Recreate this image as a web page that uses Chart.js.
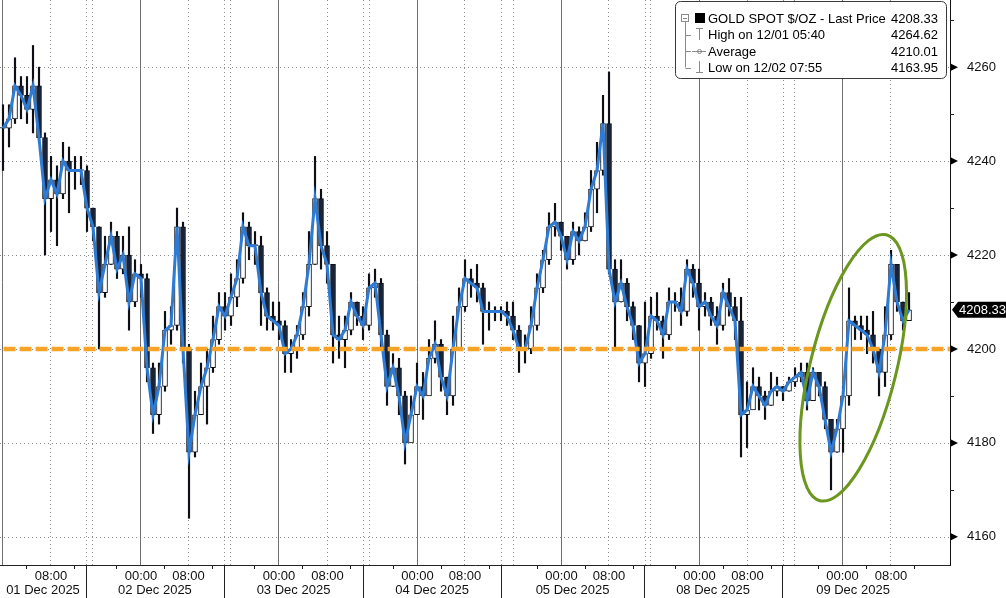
<!DOCTYPE html>
<html>
<head>
<meta charset="utf-8">
<title>GOLD SPOT $/OZ</title>
<script src="https://cdn.jsdelivr.net/npm/chart.js@4.4.1/dist/chart.umd.min.js"></script>
<style>
  html, body { margin: 0; padding: 0; background: #fff; }
  #wrap { width: 1006px; height: 598px; }
</style>
</head>
<body>
<div id="wrap"><canvas id="goldChart" width="1006" height="598"></canvas></div>
<script>
// hourly bars, 01 Dec 2025 -> 09 Dec 2025 (trading hours, gaps removed)
const closes = [
  4247, 4249, 4256, 4254, 4251, 4256, 4245, 4232, 4236, 4233,
  4240, 4238, 4238, 4238, 4230, 4226, 4212, 4218, 4224, 4217,
  4220, 4210, 4216, 4215, 4196, 4186, 4192, 4204, 4205, 4226,
  4200, 4178, 4186, 4192, 4196, 4202, 4209, 4207, 4211, 4215,
  4226, 4222, 4222, 4212, 4207, 4206, 4205, 4199, 4200, 4203,
  4209, 4218, 4232, 4222, 4218, 4203, 4202, 4204, 4210, 4207,
  4205, 4213, 4214, 4203, 4192, 4196, 4190, 4180, 4186, 4192,
  4190, 4198, 4201, 4194, 4190, 4200, 4209, 4215, 4214, 4213,
  4208, 4208, 4208, 4208, 4207, 4204, 4200, 4200, 4205, 4213,
  4219, 4226, 4227, 4224, 4219, 4225, 4223, 4226, 4234, 4238,
  4248, 4217, 4210, 4214, 4209, 4205, 4197, 4199, 4207, 4206,
  4203, 4210, 4210, 4208, 4217, 4214, 4209, 4210, 4207, 4205,
  4212, 4209, 4206, 4186, 4187, 4192, 4190, 4188, 4191, 4192,
  4191, 4193, 4194, 4195, 4189, 4195, 4192, 4185, 4178, 4183,
  4190, 4206, 4205, 4204, 4203, 4200, 4195, 4203, 4218, 4210,
  4206, 4208.33
];
const highs = [
  4252, 4252, 4262, 4258, 4258, 4264.62, 4260, 4246, 4241, 4239,
  4244, 4243, 4241, 4241, 4239, 4230, 4226, 4224, 4227, 4225,
  4224, 4226, 4219, 4218, 4216, 4197, 4197, 4208, 4209, 4230,
  4227, 4201, 4191, 4197, 4200, 4207, 4212, 4212, 4216, 4219,
  4229, 4227, 4225, 4224, 4213, 4210, 4210, 4206, 4202, 4205,
  4212, 4225, 4241, 4234, 4225, 4218, 4207, 4207, 4212, 4210,
  4209, 4216, 4217, 4215, 4204, 4199, 4198, 4191, 4190, 4197,
  4195, 4202, 4206, 4202, 4194, 4207, 4213, 4219, 4217, 4218,
  4214, 4210, 4209, 4209, 4210, 4210, 4205, 4203, 4209, 4216,
  4221, 4229, 4231, 4227, 4224, 4227, 4226, 4229, 4238, 4244,
  4254, 4259, 4219, 4219, 4215, 4210, 4205, 4210, 4211, 4212,
  4207, 4213, 4212, 4213, 4219, 4218, 4217, 4212, 4211, 4209,
  4214, 4215, 4211, 4211, 4193, 4196, 4194, 4191, 4195, 4194,
  4192, 4194, 4196, 4197, 4197, 4196, 4195, 4193, 4185, 4185,
  4192, 4213, 4207, 4207, 4207, 4208, 4200, 4209, 4221, 4217,
  4210, 4212
];
const lows = [
  4238, 4243, 4248, 4249, 4248, 4246, 4244, 4220, 4225, 4222,
  4232, 4229, 4234, 4235, 4225, 4223, 4200, 4211, 4218, 4215,
  4216, 4204, 4209, 4211, 4193, 4182, 4184, 4191, 4201, 4204,
  4197, 4163.95, 4177, 4186, 4184, 4195, 4201, 4204, 4205, 4209,
  4214, 4219, 4218, 4205, 4204, 4204, 4202, 4195, 4195, 4198,
  4202, 4207, 4218, 4217, 4214, 4197, 4198, 4196, 4203, 4205,
  4202, 4204, 4211, 4200, 4188, 4192, 4186, 4175.5, 4182, 4188,
  4185, 4191, 4197, 4191, 4186, 4188, 4200, 4208, 4211, 4210,
  4201, 4204, 4206, 4206, 4205, 4202, 4195, 4197, 4199, 4204,
  4212, 4218, 4224, 4221, 4217, 4218, 4220, 4223, 4225, 4229,
  4237, 4216, 4200, 4210, 4206, 4202, 4193, 4192, 4198, 4204,
  4198, 4202, 4208, 4205, 4207, 4211, 4204, 4207, 4205, 4201,
  4204, 4207, 4202, 4177, 4179, 4188, 4187, 4185, 4188, 4190,
  4189, 4191, 4192, 4193, 4187, 4192, 4190, 4183, 4170, 4178,
  4178, 4188, 4202, 4202, 4199, 4197, 4190, 4192, 4202, 4208,
  4204, 4207
];

// axis positions, in trading hours from the left edge
const yTicks = [4160, 4180, 4200, 4220, 4240, 4260];
const yMinor = [4170, 4190, 4210, 4230, 4250, 4270];
const hourTicks = [8.5, 23.5, 31.42, 46.5, 54.58, 69.58, 77.5, 93.58, 101.5, 116.58, 124.58, 140.42, 148.5];
const hourLabels = ['08:00', '00:00', '08:00', '00:00', '08:00', '00:00', '08:00', '00:00', '08:00', '00:00', '08:00', '00:00', '08:00'];
const midnightLines = [0.33, 23.33, 46.33, 69.5, 93.5, 116.5, 140.33];
const morningLines = [8.33, 31.33, 54.5, 77.33, 101.33, 124.5, 148.33];
const sessionEnds = [14.33, 37.33, 60.5, 83.5, 107.5, 130.5];
const sessionStarts = [15.33, 38.33, 61.5, 85.5, 108.33, 132.33];
const dayBounds = [0, 14.33, 37.33, 60.5, 83.5, 107.33, 130.33, 154];
const dayLabels = ['01 Dec 2025', '02 Dec 2025', '03 Dec 2025', '04 Dec 2025', '05 Dec 2025', '08 Dec 2025', '09 Dec 2025'];

const refLevel = 4200;
const legendLabels = ['GOLD SPOT $/OZ - Last Price', 'High on 12/01 05:40', 'Average', 'Low on 12/02 07:55'];
const legendValues = ['4208.33', '4264.62', '4210.01', '4163.95'];
const lastPrice = closes[closes.length - 1];

const FONT = '13px "Liberation Sans", Arial, sans-serif';

// datasets built from the arrays above
const xs = closes.map((c, i) => i + 0.5);
const opens = closes.map((c, i) => (i === 0 ? c : closes[i - 1]));
const wickData = xs.map((x, i) => ({ x: x, y: [lows[i], highs[i]] }));
const bodyData = xs.map((x, i) => ({ x: x, y: [opens[i], closes[i]] }));
const lineData = xs.map((x, i) => ({ x: x, y: closes[i] }));

const decor = {
  id: 'decor',
  beforeDatasetsDraw(chart) {
    const { ctx, chartArea: a, scales: { x, y } } = chart;
    ctx.save();
    ctx.lineWidth = 1;

    // horizontal dotted grid
    ctx.strokeStyle = '#8c8c8c';
    ctx.setLineDash([1, 3]);
    yTicks.forEach(v => {
      const py = Math.round(y.getPixelForValue(v)) + 0.5;
      ctx.beginPath(); ctx.moveTo(a.left, py); ctx.lineTo(a.right, py); ctx.stroke();
    });
    // dotted verticals: 08:00 and session breaks
    morningLines.concat(sessionEnds, sessionStarts).forEach(h => {
      const px = Math.round(x.getPixelForValue(h)) + 0.5;
      ctx.beginPath(); ctx.moveTo(px, a.top); ctx.lineTo(px, a.bottom); ctx.stroke();
    });
    // solid midnight lines
    ctx.setLineDash([]);
    ctx.strokeStyle = '#6f6f6f';
    midnightLines.forEach(h => {
      const px = Math.round(x.getPixelForValue(h)) + 0.5;
      ctx.beginPath(); ctx.moveTo(px, a.top); ctx.lineTo(px, a.bottom); ctx.stroke();
    });

    // x axis line, separators, minor ticks
    ctx.strokeStyle = '#222';
    ctx.beginPath(); ctx.moveTo(a.left, a.bottom + 0.5); ctx.lineTo(a.right + 1, a.bottom + 0.5); ctx.stroke();
    dayBounds.slice(1, -1).forEach(h => {
      const px = Math.round(x.getPixelForValue(h)) + 0.5;
      ctx.beginPath(); ctx.moveTo(px, a.bottom); ctx.lineTo(px, chart.height); ctx.stroke();
    });
    const minor = [];
    midnightLines.forEach(m => { minor.push(m - 4, m + 4, m + 12); });
    minor.filter(h => h > 1 && h < 156).forEach(h => {
      const px = Math.round(x.getPixelForValue(h)) + 0.5;
      ctx.beginPath(); ctx.moveTo(px, a.bottom); ctx.lineTo(px, a.bottom + 4); ctx.stroke();
    });

    // x labels
    ctx.fillStyle = '#111';
    ctx.font = FONT;
    ctx.textAlign = 'center';
    ctx.textBaseline = 'middle';
    hourTicks.forEach((h, i) => {
      ctx.fillText(hourLabels[i], x.getPixelForValue(h), a.bottom + 11);
    });
    dayLabels.forEach((d, i) => {
      const mid = (dayBounds[i] + dayBounds[i + 1]) / 2;
      ctx.fillText(d, x.getPixelForValue(mid), a.bottom + 25);
    });

    // y axis arrows and minor ticks
    ctx.fillStyle = '#000';
    yTicks.forEach(v => {
      const py = y.getPixelForValue(v);
      ctx.beginPath();
      ctx.moveTo(a.right + 1, py - 3.5); ctx.lineTo(a.right + 8, py); ctx.lineTo(a.right + 1, py + 3.5);
      ctx.closePath(); ctx.fill();
    });
    yMinor.forEach(v => {
      const py = Math.round(y.getPixelForValue(v)) + 0.5;
      ctx.beginPath(); ctx.moveTo(a.right, py); ctx.lineTo(a.right + 4, py); ctx.stroke();
    });
    ctx.restore();
  },
  afterDatasetsDraw(chart) {
    const { ctx, chartArea: a, scales: { x, y } } = chart;
    ctx.save();

    // green ellipse around the last session
    ctx.strokeStyle = '#6b971f';
    ctx.lineWidth = 3;
    ctx.beginPath();
    ctx.ellipse(x.getPixelForValue(142.2), y.getPixelForValue(4196), 43, 137, 14 * Math.PI / 180, 0, Math.PI * 2);
    ctx.stroke();

    // last price tag
    const py = y.getPixelForValue(lastPrice);
    ctx.fillStyle = '#000';
    ctx.beginPath();
    ctx.moveTo(a.right + 2, py);
    ctx.lineTo(a.right + 8, py - 8);
    ctx.lineTo(chart.width, py - 8);
    ctx.lineTo(chart.width, py + 8);
    ctx.lineTo(a.right + 8, py + 8);
    ctx.closePath();
    ctx.fill();
    ctx.fillStyle = '#fff';
    ctx.font = FONT;
    ctx.textAlign = 'left';
    ctx.textBaseline = 'middle';
    ctx.fillText(lastPrice.toFixed(2), a.right + 9, py + 1);

    // legend box
    const bx = 675.5, by = 1.5, bw = 271, bh = 77;
    ctx.fillStyle = '#fff';
    ctx.strokeStyle = '#3a3a3a';
    ctx.lineWidth = 1;
    ctx.beginPath();
    ctx.roundRect(bx, by, bw, bh, 5);
    ctx.fill(); ctx.stroke();

    const rows = [18, 34.5, 51, 67.5];
    ctx.strokeStyle = '#8a8a8a';
    // expander and tree
    ctx.strokeRect(681.5, 14.5, 7, 7);
    ctx.beginPath(); ctx.moveTo(683, 18.5); ctx.lineTo(687, 18.5); ctx.stroke();
    ctx.beginPath(); ctx.moveTo(685.5, 22); ctx.lineTo(685.5, rows[3]); ctx.stroke();
    rows.slice(1).forEach(r => {
      ctx.beginPath(); ctx.moveTo(685.5, Math.round(r) + 0.5); ctx.lineTo(691, Math.round(r) + 0.5); ctx.stroke();
    });
    ctx.fillStyle = '#000';
    ctx.fillRect(695, 13, 10, 10);
    // high icon
    ctx.beginPath(); ctx.moveTo(696, 28.5); ctx.lineTo(703, 28.5); ctx.moveTo(699.5, 28.5); ctx.lineTo(699.5, 40); ctx.stroke();
    // average icon
    ctx.beginPath(); ctx.moveTo(692, 51.5); ctx.lineTo(706, 51.5); ctx.stroke();
    ctx.beginPath(); ctx.arc(699.5, 51.5, 2, 0, Math.PI * 2); ctx.stroke();
    // low icon
    ctx.beginPath(); ctx.moveTo(699.5, 61); ctx.lineTo(699.5, 72.5); ctx.moveTo(696, 72.5); ctx.lineTo(703, 72.5); ctx.stroke();

    ctx.fillStyle = '#000';
    ctx.font = FONT;
    ctx.textBaseline = 'middle';
    legendLabels.forEach((t, i) => {
      ctx.textAlign = 'left';
      ctx.fillText(t, 708, rows[i] + 1);
      ctx.textAlign = 'right';
      ctx.fillText(legendValues[i], 938, rows[i] + 1);
    });
    ctx.restore();
  }
};

const ctx = document.getElementById('goldChart').getContext('2d');
new Chart(ctx, {
  type: 'bar',
  data: {
    datasets: [
      {
        type: 'line',
        label: 'level',
        data: [{ x: 0.6, y: refLevel }, { x: 158.3, y: refLevel }],
        borderColor: '#f5a429',
        borderWidth: 4.5,
        borderDash: [12, 4],
        pointRadius: 0,
        order: 0
      },
      {
        type: 'line',
        label: 'Last Price',
        data: lineData,
        borderColor: '#2d7bd4',
        borderWidth: 3,
        pointRadius: 0,
        tension: 0,
        order: 1
      },
      {
        label: 'body',
        data: bodyData,
        grouped: false,
        barThickness: 5,
        minBarLength: 1,
        borderWidth: 1,
        borderColor: '#0d0f14',
        borderSkipped: false,
        backgroundColor: c => (closes[c.dataIndex] >= opens[c.dataIndex] ? '#ffffff' : '#16233a'),
        order: 2
      },
      {
        label: 'range',
        data: wickData,
        grouped: false,
        barThickness: 1.5,
        backgroundColor: '#0d0f14',
        borderWidth: 0,
        order: 3
      }
    ]
  },
  options: {
    responsive: false,
    devicePixelRatio: 1,
    animation: false,
    events: [],
    layout: { padding: { left: 0, right: 0, top: 0, bottom: 33 } },
    plugins: { legend: { display: false }, tooltip: { enabled: false } },
    scales: {
      x: { type: 'linear', display: false, offset: false, min: 0, max: 158.33 },
      y: {
        type: 'linear',
        position: 'right',
        min: 4154,
        max: 4274.3,
        afterFit: s => { s.width = 56; s.paddingTop = 0; s.paddingBottom = 0; },
        afterBuildTicks: s => { s.ticks = yTicks.map(v => ({ value: v })); },
        grid: { display: false },
        border: { display: true, color: '#111', width: 1 },
        ticks: {
          autoSkip: false,
          padding: 9,
          color: '#111',
          font: { family: '"Liberation Sans", Arial, sans-serif', size: 13 },
          callback: v => String(v)
        }
      }
    }
  },
  plugins: [decor]
});
</script>
</body>
</html>
